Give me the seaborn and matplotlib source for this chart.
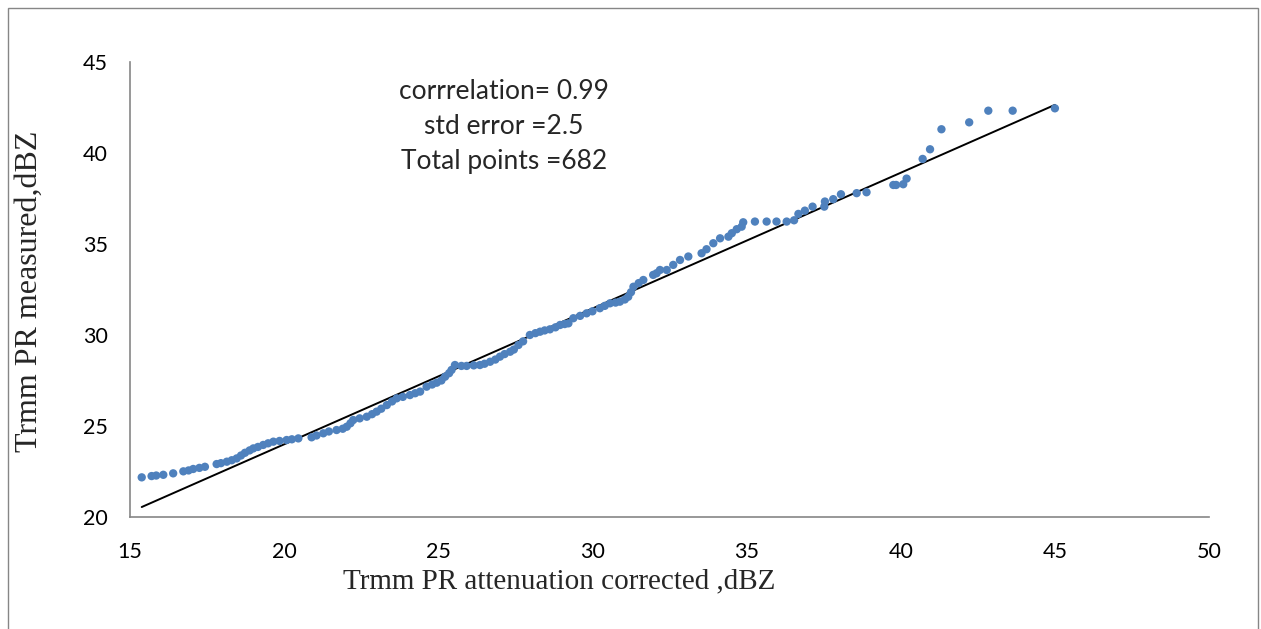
import matplotlib
matplotlib.use("Agg")
import matplotlib.pyplot as plt
from matplotlib.patches import Rectangle
import seaborn as sns
import pandas as pd

# corrected (x) vs measured (y) reflectivity, dBZ
corrected = [15.38, 15.70, 15.85, 16.08, 16.40, 16.73, 16.90, 17.05, 17.25, 17.43,
             17.81, 17.95, 18.14, 18.30, 18.46, 18.60, 18.73, 18.88, 19.00, 19.15,
             19.32, 19.48, 19.65, 19.85, 20.08, 20.25, 20.46, 20.89, 21.05, 21.27,
             21.45, 21.70, 21.90, 22.03, 22.15, 22.24, 22.45, 22.68, 22.85, 23.00,
             23.15, 23.33, 23.50, 23.65, 23.85, 24.08, 24.25, 24.41, 24.62, 24.80,
             24.95, 25.10, 25.22, 25.35, 25.43, 25.54, 25.75, 25.92, 26.15, 26.35,
             26.50, 26.68, 26.85, 27.00, 27.15, 27.33, 27.45, 27.60, 27.75, 27.97,
             28.15, 28.30, 28.45, 28.62, 28.80, 28.95, 29.10, 29.22, 29.38, 29.60,
             29.81, 30.00, 30.24, 30.40, 30.57, 30.75, 30.89, 31.05, 31.16, 31.25,
             31.33, 31.50, 31.65, 31.97, 32.08, 32.19, 32.41, 32.62, 32.84, 33.11,
             33.54, 33.70, 33.92, 34.14, 34.41, 34.52, 34.68, 34.84, 34.89, 35.27,
             35.65, 35.97, 36.30, 36.54, 36.68, 36.89, 37.14, 37.52, 37.54, 37.81,
             38.06, 38.57, 38.89, 39.76, 39.85, 40.08, 40.19, 40.71, 40.95, 41.32,
             42.22, 42.84, 43.63, 45.00]
measured = [22.18, 22.25, 22.28, 22.32, 22.40, 22.51, 22.56, 22.64, 22.70, 22.76,
            22.91, 22.96, 23.04, 23.12, 23.22, 23.38, 23.53, 23.66, 23.77, 23.85,
            23.96, 24.05, 24.14, 24.18, 24.23, 24.27, 24.32, 24.38, 24.48, 24.60,
            24.70, 24.78, 24.85, 24.96, 25.15, 25.33, 25.42, 25.51, 25.65, 25.79,
            25.95, 26.15, 26.35, 26.52, 26.60, 26.70, 26.80, 26.89, 27.16, 27.28,
            27.38, 27.50, 27.71, 27.90, 28.08, 28.35, 28.30, 28.30, 28.33, 28.35,
            28.42, 28.53, 28.65, 28.81, 28.95, 29.08, 29.20, 29.45, 29.65, 30.00,
            30.10, 30.18, 30.25, 30.31, 30.42, 30.55, 30.60, 30.64, 30.92, 31.05,
            31.19, 31.30, 31.47, 31.60, 31.74, 31.78, 31.83, 31.95, 32.10, 32.35,
            32.65, 32.85, 33.02, 33.30, 33.39, 33.57, 33.57, 33.85, 34.12, 34.31,
            34.49, 34.71, 35.04, 35.31, 35.40, 35.59, 35.81, 35.95, 36.19, 36.23,
            36.23, 36.23, 36.23, 36.30, 36.65, 36.83, 37.05, 37.05, 37.33, 37.46,
            37.73, 37.79, 37.84, 38.24, 38.24, 38.28, 38.59, 39.67, 40.20, 41.30,
            41.68, 42.32, 42.32, 42.45]

# fitted line end points
fit_x = [15.38, 45.0]
fit_y = [20.55, 42.64]

x_ticks = [15, 20, 25, 30, 35, 40, 45, 50]
y_ticks = [20, 25, 30, 35, 40, 45]

stats_text = "corrrelation= 0.99\nstd error =2.5\nTotal points =682"

sns.set_style("white")
plt.rcParams["font.family"] = ["Lato", "DejaVu Sans"]

df = pd.DataFrame({"corrected": corrected, "measured": measured})
fit = pd.DataFrame({"x": fit_x, "y": fit_y})

fig = plt.figure(figsize=(12.61, 6.29), dpi=100)
ax = fig.add_axes([0.1031, 0.178, 0.8557, 0.7236])

sns.lineplot(data=fit, x="x", y="y", ax=ax, color="black", linewidth=1.4)
sns.scatterplot(data=df, x="corrected", y="measured", ax=ax,
                color="#4F81BD", s=36, edgecolor="none", zorder=3)

ax.set_xlim(15, 50)
ax.set_ylim(20, 45)
ax.set_xticks(x_ticks)
ax.set_yticks(y_ticks)

for side in ["top", "right"]:
    ax.spines[side].set_visible(False)
for side in ["left", "bottom"]:
    ax.spines[side].set_color("#868686")
    ax.spines[side].set_linewidth(1.2)

ax.tick_params(axis="both", direction="out", length=5, width=1.2,
               color="#868686", labelsize=15.5, labelcolor="black", pad=11)
ax.tick_params(axis="x", pad=13)

ax.set_xlabel("Trmm PR attenuation corrected ,dBZ",
              fontfamily="Liberation Serif", fontsize=21)
ax.set_ylabel("Trmm PR measured,dBZ",
              fontfamily="Liberation Serif", fontsize=23)
ax.xaxis.set_label_coords(0.398, -0.112)
ax.yaxis.set_label_coords(-0.08, 0.497)

ax.text(0.3466, 0.859, stats_text, transform=ax.transAxes,
        ha="center", va="center", multialignment="center",
        fontsize=19, linespacing=1.5)

# thin outer frame of the chart area
fig.patches.append(Rectangle((8 / 1261, -0.05), 1250 / 1261, 1.05 - 8 / 629,
                             transform=fig.transFigure, fill=False,
                             edgecolor="#868686", linewidth=1.0))

fig.savefig("out.png", dpi=100)
